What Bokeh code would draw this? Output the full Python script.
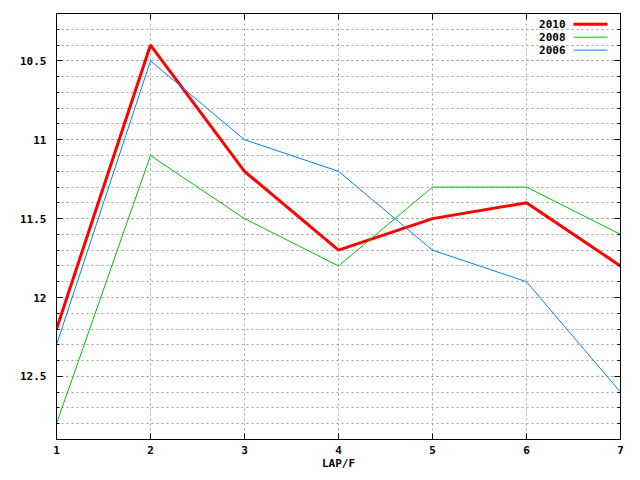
from bokeh.plotting import figure
from bokeh.models import Range1d, FixedTicker, LinearAxis, Label, Arrow
from bokeh.embed import file_html
from bokeh.resources import INLINE

laps = [1, 2, 3, 4, 5, 6, 7]
s2010 = [12.2, 10.4, 11.2, 11.7, 11.5, 11.4, 11.8]
s2008 = [12.8, 11.1, 11.5, 11.8, 11.3, 11.3, 11.6]
s2006 = [12.3, 10.5, 11.0, 11.2, 11.7, 11.9, 12.6]
series_names = ["2010", "2008", "2006"]
series_values = [s2010, s2008, s2006]
colors = ["#ff0000", "#00c000", "#0080ff"]
widths = [3, 1, 1]
x_ticks = [1, 2, 3, 4, 5, 6, 7]
y_major = [10.5, 11, 11.5, 12, 12.5]
y_labels = ["10.5", "11", "11.5", "12", "12.5"]
y_minor = [round(10.2 + 0.1 * i, 1) for i in range(28)]

FONT = "DejaVu Sans Mono"

p = figure(width=632, height=472, output_backend="svg", toolbar_location=None,
           x_range=Range1d(1, 7), y_range=Range1d(12.9, 10.2),
           min_border_left=56, min_border_right=12, min_border_top=13,
           min_border_bottom=32, x_axis_label="LAP/F")
p.outline_line_color = "black"
p.outline_line_width = 1

xt = FixedTicker(ticks=x_ticks, minor_ticks=[])
yt = FixedTicker(ticks=y_major, minor_ticks=y_minor)

def style_axis(ax, ticker):
    ax.ticker = ticker
    ax.axis_line_color = "black"
    ax.major_tick_in = 6
    ax.major_tick_out = 0
    ax.minor_tick_in = 3
    ax.minor_tick_out = 0
    ax.major_tick_line_color = "black"
    ax.minor_tick_line_color = "black"
    ax.major_label_text_font = FONT
    ax.major_label_text_font_style = "bold"
    ax.major_label_text_font_size = "11px"
    ax.major_label_text_color = "black"

def mirror_axis(ticks, tick_len):
    # label-free mirror axis: all ticks are drawn as minor ticks
    ax = LinearAxis(ticker=FixedTicker(ticks=[], minor_ticks=ticks))
    ax.axis_line_color = "black"
    ax.major_tick_in = 0
    ax.major_tick_out = 0
    ax.minor_tick_in = tick_len
    ax.minor_tick_out = 0
    ax.minor_tick_line_color = "black"
    ax.major_label_standoff = 0
    return ax

xa = p.xaxis[0]
style_axis(xa, xt)
xa.major_label_standoff = 6
xa.axis_label_standoff = 0
xa.axis_label_text_font = FONT
xa.axis_label_text_font_style = "bold"
xa.axis_label_text_font_size = "11px"
xa.axis_label_text_color = "black"

ya = p.yaxis[0]
style_axis(ya, yt)
ya.major_label_standoff = 10
ya.major_label_overrides = {k: v for k, v in zip(y_major, y_labels)}

p.add_layout(mirror_axis(y_minor, 3), "right")
p.add_layout(mirror_axis(y_major, 6), "right")
p.add_layout(mirror_axis(x_ticks, 6), "above")

for g in (p.xgrid[0], p.ygrid[0]):
    g.grid_line_color = "#a0a0a0"
    g.grid_line_dash = "2 3"
    g.grid_line_width = 1
p.xgrid[0].ticker = xt
p.ygrid[0].ticker = yt
p.ygrid[0].minor_grid_line_color = "#a0a0a0"
p.ygrid[0].minor_grid_line_dash = "2 3"

for vals, c, w in zip(series_values, colors, widths):
    p.line(laps, vals, line_color=c, line_width=w)

# legend (gnuplot style: label then sample)
leg_y = [10.268, 10.35, 10.432]
for name, c, w, yy in zip(series_names, colors, widths, leg_y):
    p.add_layout(Label(x=6.415, y=yy, text=name, text_align="right",
                       text_baseline="middle", text_font=FONT,
                       text_font_style="bold", text_font_size="11px",
                       text_color="black"))
    p.add_layout(Arrow(end=None, x_start=6.50, y_start=yy, x_end=6.862,
                       y_end=yy, line_color=c, line_width=w))

open("out.html", "w").write(file_html(p, INLINE))
